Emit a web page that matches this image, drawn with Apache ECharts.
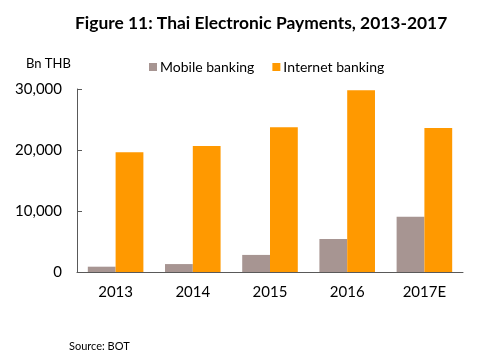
<!DOCTYPE html>
<html>
<head>
<meta charset="utf-8">
<script src="https://cdn.jsdelivr.net/npm/echarts@6/dist/echarts.min.js"></script>
<style>html,body{margin:0;padding:0;background:#fff;}#c{width:497px;height:358px;}</style>
</head>
<body>
<div id="c"></div>
<script>
const categories = ['2013', '2014', '2015', '2016', '2017E'];
const mobileBanking = [870, 1300, 2800, 5400, 9050];
const internetBanking = [19650, 20650, 23750, 29800, 23600];
const yTicks = [0, 10000, 20000, 30000];

const FONT = 'Lato';
const chart = echarts.init(document.getElementById('c'));
chart.setOption({
  animation: false,
  backgroundColor: '#fff',
  textStyle: { fontFamily: FONT },
  title: [
    { text: 'Figure 11: Thai Electronic Payments, 2013-2017', left: 70, top: 10,
      textStyle: { fontFamily: FONT, fontWeight: 'bold', fontSize: 17.4, color: '#000' } },
    { text: 'Bn THB', left: 21, top: 52, textStyle: { fontFamily: FONT, fontWeight: 'normal', fontSize: 13, color: '#000' } },
    { text: 'Source: BOT', left: 64, top: 336, textStyle: { fontFamily: FONT, fontWeight: 'normal', fontSize: 11, color: '#000' } }
  ],
  legend: {
    left: 144, top: 55, itemWidth: 8, itemHeight: 8, itemGap: 18,
    icon: 'rect',
    textStyle: { fontFamily: FONT, fontSize: 14, color: '#000', padding: [0, 0, 0, -2] },
    data: ['Mobile banking', 'Internet banking']
  },
  grid: { left: 77, right: 34, top: 89, bottom: 86 },
  xAxis: {
    type: 'category', data: categories,
    axisLine: { lineStyle: { color: '#595959', width: 1 } },
    axisTick: { inside: true, length: 5, lineStyle: { color: '#595959' } },
    axisLabel: { fontFamily: FONT, fontSize: 15, color: '#000', margin: 13 }
  },
  yAxis: {
    type: 'value', min: 0, max: 30000, interval: 10000,
    axisLine: { show: true, lineStyle: { color: '#595959', width: 1 } },
    axisTick: { show: true, inside: true, length: 5, lineStyle: { color: '#595959' } },
    splitLine: { show: false },
    axisLabel: { fontFamily: FONT, fontSize: 15, color: '#000', margin: 15,
      formatter: v => yTicks.includes(v) ? v.toLocaleString('en-US') : '' }
  },
  series: [
    { name: 'Mobile banking', type: 'bar', data: mobileBanking, barWidth: '36%', barGap: '0%',
      itemStyle: { color: '#A79592' } },
    { name: 'Internet banking', type: 'bar', data: internetBanking, barWidth: '36%', barGap: '0%',
      itemStyle: { color: '#FF9900' } }
  ]
});
</script>
</body>
</html>
